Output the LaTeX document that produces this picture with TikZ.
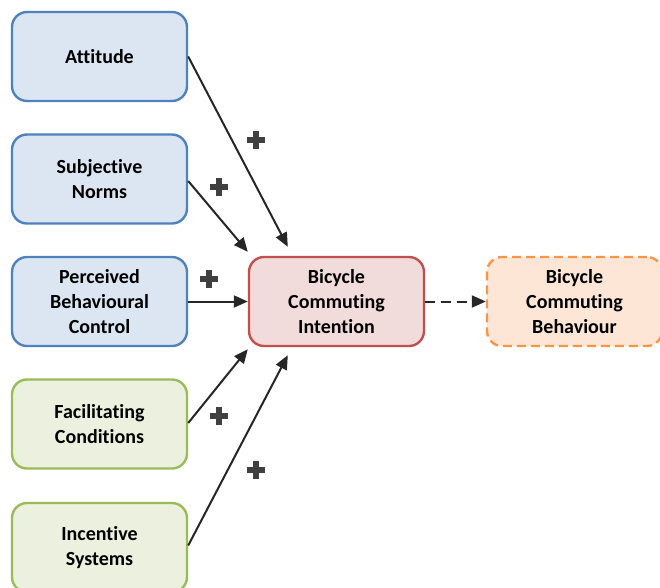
\documentclass[tikz,border=0pt]{standalone}
\usepackage{fontspec}
\setmainfont[RawFeature={-liga;-clig;-calt;-dlig}]{Carlito}
\usetikzlibrary{arrows.meta}
\definecolor{bluebd}{HTML}{4F81BD}
\definecolor{bluefl}{HTML}{DCE6F2}
\definecolor{greenbd}{HTML}{9BBB59}
\definecolor{greenfl}{HTML}{EBF1DE}
\definecolor{redbd}{HTML}{C0504D}
\definecolor{redfl}{HTML}{F2DCDB}
\definecolor{orgbd}{HTML}{F79646}
\definecolor{orgfl}{HTML}{FDE6D6}
\definecolor{arr}{HTML}{262626}
\definecolor{plusc}{HTML}{404040}
\tikzset{
  box/.style={rounded corners=15pt, line width=2.4pt, minimum width=175pt, minimum height=89pt,
    align=center, font=\fontsize{20}{25}\selectfont\bfseries, text=black, inner sep=2pt},
  bluebox/.style={box, draw=bluebd, fill=bluefl},
  greenbox/.style={box, draw=greenbd, fill=greenfl},
  redbox/.style={box, draw=redbd, fill=redfl},
  orgbox/.style={box, draw=orgbd, fill=orgfl, dash pattern=on 9pt off 5pt},
  link/.style={draw=arr, line width=2pt, -{Triangle[length=14pt,width=12pt]}},
  dlink/.style={link, dash pattern=on 10pt off 6pt},
  plussign/.pic={\fill[plusc] (-9pt,-3pt) rectangle (9pt,3pt); \fill[plusc] (-3pt,-9pt) rectangle (3pt,9pt);}
}
\begin{document}
\begin{tikzpicture}[x=1pt,y=-1pt]
\useasboundingbox (0,0) rectangle (660,587);
\node[bluebox] (att) at (99.5,56.5) {Attitude};
\node[bluebox] (sn) at (99.5,179) {Subjective\\Norms};
\node[bluebox] (pbc) at (99.5,301.5) {Perceived\\Behavioural\\Control};
\node[greenbox] (fc) at (99.5,424) {Facilitating\\Conditions};
\node[greenbox] (is) at (99.5,547.5) {Incentive\\Systems};
\node[redbox] (int) at (336.5,301.5) {Bicycle\\Commuting\\Intention};
\node[orgbox] (beh) at (574.5,301.5) {Bicycle\\Commuting\\Behaviour};
\draw[link] (att.east) -- ([xshift=40pt,yshift=9pt]int.north west);
\draw[link] ([yshift=-2pt]sn.east) -- ([yshift=4pt]int.north west);
\draw[link] (pbc.east) -- (int.west);
\draw[link] ([yshift=1pt]fc.east) -- ([yshift=-2pt]int.south west);
\draw[link] ([yshift=2pt]is.east) -- ([xshift=40pt,yshift=-8pt]int.south west);
\draw[dlink] (int.east) -- (beh.west);
\pic at (256,140) {plussign};
\pic at (219,187) {plussign};
\pic at (209,279) {plussign};
\pic at (219,416) {plussign};
\pic at (256,470) {plussign};
\end{tikzpicture}
\end{document}
